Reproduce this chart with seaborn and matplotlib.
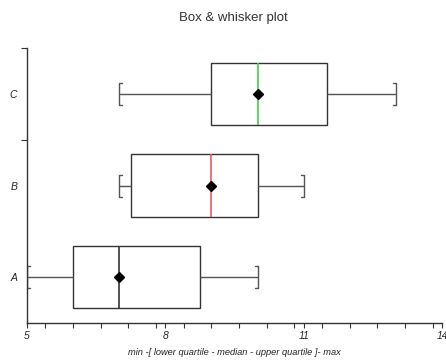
import matplotlib
matplotlib.use("Agg")
import matplotlib.pyplot as plt
import matplotlib.ticker as mticker
import pandas as pd
import seaborn as sns

# five-number summaries
categories = ["A", "B", "C"]
mins = [5.0, 7.0, 7.0]
lower_q = [6.0, 7.25, 9.0]
medians = [7.0, 9.0, 10.0]
upper_q = [8.75, 10.0, 11.5]
maxs = [10.0, 11.0, 13.0]
median_colors = ["#333333", "#e06060", "#40d040"]
order = ["C", "B", "A"]

x_ticks = [5, 8, 11, 14]
x_title = "min -[ lower quartile - median - upper quartile ]- max"


def main():
	sns.set_style("ticks")
	plt.rcParams["font.family"] = ["Liberation Sans", "DejaVu Sans"]

	# 5 points per group -> 25th/75th percentiles fall exactly on the quartiles
	rows = []
	for c, a, b, m, d, e in zip(categories, mins, lower_q, medians, upper_q, maxs):
		for v in (a, b, m, d, e):
			rows.append({"cat": c, "value": v})
	df = pd.DataFrame(rows)

	fig = plt.figure(figsize=(4.46, 3.6), dpi=100)
	ax = fig.add_axes([27 / 446, 1 - 323 / 360, 415 / 446, 275 / 360])

	line = "#333333"
	sns.boxplot(data=df, x="value", y="cat", order=order, orient="h",
		whis=(0, 100), width=0.68, color="white", linecolor=line,
		linewidth=1.0, showcaps=False, fliersize=0, ax=ax,
		whiskerprops={"color": "#555555"},
		medianprops={"linewidth": 1.2})

	pos = [order.index(c) for c in categories]

	# recolour the median lines (vertical 2-point lines)
	for ln in ax.lines:
		xd, yd = ln.get_xdata(), ln.get_ydata()
		if len(xd) == 2 and xd[0] == xd[1]:
			i = pos.index(int(round((yd[0] + yd[1]) / 2)))
			ln.set_color(median_colors[i])

	# bracket shaped caps
	d, h = 0.065, 0.12
	for p, lo, hi in zip(pos, mins, maxs):
		ax.plot([lo + d, lo, lo, lo + d], [p - h, p - h, p + h, p + h], color="#555555", lw=1.0)
		ax.plot([hi - d, hi, hi, hi - d], [p - h, p - h, p + h, p + h], color="#555555", lw=1.0)

	# diamond on the median
	ax.plot(medians, pos, ls="none", marker="D", ms=5.5, color="black", zorder=5)

	ax.set_xlim(5, 14)
	ax.set_ylim(2.5, -0.5)
	ax.xaxis.set_major_locator(mticker.FixedLocator(x_ticks))
	ax.xaxis.set_minor_locator(mticker.MultipleLocator(0.6))
	ax.yaxis.set_minor_locator(mticker.FixedLocator([-0.5, 0.5]))
	ax.tick_params(axis="x", which="both", length=3.5, width=0.8, color=line,
		labelsize=7.5, pad=2)
	ax.tick_params(axis="y", which="major", length=0, labelsize=7.5, pad=7)
	ax.tick_params(axis="y", which="minor", length=4, width=0.8, color=line)
	for t in ax.get_xticklabels() + ax.get_yticklabels():
		t.set_style("italic")
		t.set_color("#222222")

	ax.set_xlabel(x_title, fontsize=6.7, style="italic", color="#222222", labelpad=5)
	ax.set_ylabel("")
	sns.despine(ax=ax)
	for s in ("left", "bottom"):
		ax.spines[s].set_color(line)
		ax.spines[s].set_linewidth(1.0)

	fig.text(233 / 446, 1 - 18 / 360, "Box & whisker plot", ha="center", va="center",
		fontsize=9.5, color="#333333")

	fig.savefig("out.png", dpi=100)


if __name__ == '__main__':
	main()
